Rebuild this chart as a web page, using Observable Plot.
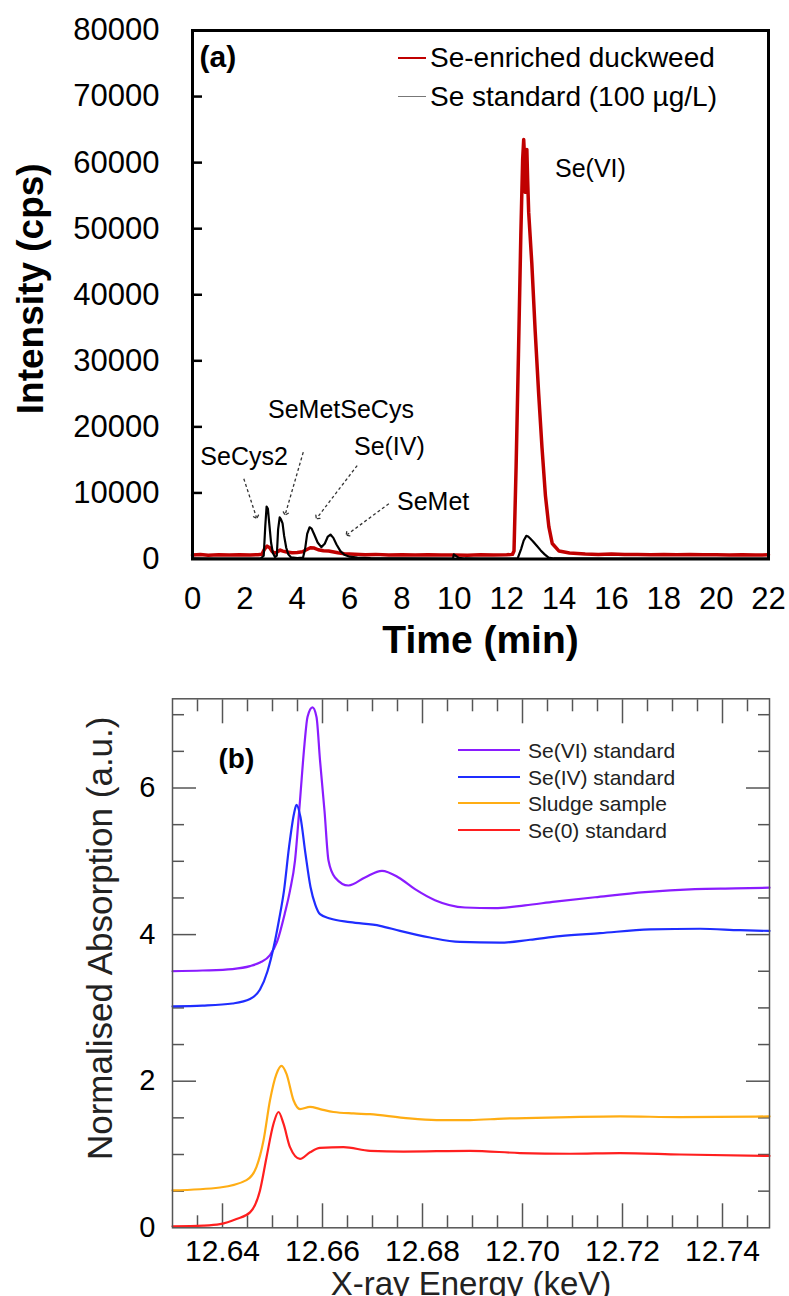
<!DOCTYPE html>
<html>
<head>
<meta charset="utf-8">
<script src="https://cdn.jsdelivr.net/npm/d3@7"></script>
<script src="https://cdn.jsdelivr.net/npm/@observablehq/plot@0.6"></script>
<style>
  body { margin: 0; background: #fff; font-family: "Liberation Sans", Arial, sans-serif; }
  #wrap { position: relative; width: 789px; height: 1296px; overflow: hidden; background: #fff; }
  #wrap svg { display: block; overflow: visible; }
  .leg-line { position: absolute; height: 0; }
  .leg-text { position: absolute; white-space: nowrap; line-height: 1; transform: translateY(-50%); }
</style>
</head>
<body>
<div id="wrap">
  <div id="panelA"></div>
  <div id="panelB"></div>
</div>
<script>
// ---------- Panel (a): HPLC-ICP-MS chromatograms ----------
const timeTicks = [0, 2, 4, 6, 8, 10, 12, 14, 16, 18, 20, 22];
const intensityTicks = [0, 10000, 20000, 30000, 40000, 50000, 60000, 70000, 80000];
const seriesA = ["Se-enriched duckweed", "Se standard (100 µg/L)"];

// [time (min), intensity (cps)]
const duckweedTrace = [[0,600],[0.3,680],[0.6,560],[1,650],[1.4,590],[1.8,640],[2.2,600],[2.5,660],[2.65,720],[2.75,1500],[2.85,1950],[2.95,1700],[3.05,1100],[3.15,900],[3.25,1100],[3.35,1350],[3.45,1200],[3.6,1050],[3.8,950],[4.0,1000],[4.2,1100],[4.35,1400],[4.5,1700],[4.65,1650],[4.8,1400],[5.0,1250],[5.2,1200],[5.35,1100],[5.55,950],[5.8,800],[6.2,720],[6.6,650],[7,700],[7.5,620],[8,660],[8.5,600],[9,640],[9.5,590],[10,620],[10.5,580],[11,630],[11.5,600],[12,640],[12.22,700],[12.28,1200],[12.36,14000],[12.45,31000],[12.54,49000],[12.61,60500],[12.65,63500],[12.68,61000],[12.71,55500],[12.74,58500],[12.77,62000],[12.8,57500],[12.84,52500],[12.96,44750],[13.09,34400],[13.22,25100],[13.35,16800],[13.48,9600],[13.61,4900],[13.74,2350],[14,1200],[14.4,900],[15,760],[15.5,700],[16,740],[16.5,680],[17,700],[17.5,650],[18,690],[18.5,640],[19,670],[19.5,630],[20,660],[20.5,620],[21,650],[21.5,610],[22,630]];
const standardTrace = [[0,80],[1,60],[2,70],[2.6,60],[2.72,500],[2.78,5000],[2.83,7950],[2.88,7600],[2.94,5000],[3.0,2500],[3.07,900],[3.15,300],[3.22,500],[3.27,4500],[3.33,6300],[3.38,6000],[3.44,5400],[3.5,3500],[3.58,1700],[3.66,700],[3.76,250],[4.0,150],[4.22,200],[4.3,1500],[4.38,3800],[4.47,4800],[4.55,4600],[4.65,3700],[4.78,2500],[4.92,1800],[5.05,2300],[5.17,3400],[5.27,3700],[5.38,3200],[5.5,2200],[5.65,1200],[5.8,650],[6.0,350],[6.3,200],[6.8,120],[8,80],[9.8,60],[9.95,80],[9.98,700],[10.17,180],[10.4,80],[11,60],[12.3,60],[12.42,100],[12.55,1500],[12.65,2800],[12.75,3500],[12.82,3400],[12.9,3100],[13.0,2700],[13.15,2000],[13.3,1300],[13.45,700],[13.6,200],[13.8,80],[16,60],[19,60],[22,60]];

const peakLabelText = ["SeCys2", "SeMetSeCys", "Se(IV)", "SeMet", "Se(VI)"];
const peakLabelTime = [1.97, 5.67, 7.52, 9.19, 15.2];
const peakLabelIntensity = [15400, 22480, 16900, 8600, 59100];
const arrowTimeStart = [1.96, 4.23, 6.29, 7.5];
const arrowIntensityStart = [12140, 16170, 14150, 8360];
const arrowTimeEnd = [2.44, 3.55, 4.76, 5.91];
const arrowIntensityEnd = [6330, 6840, 6240, 3710];

// ---------- Panel (b): Se K-edge XANES ----------
const energyTicks = [12.64, 12.66, 12.68, 12.70, 12.72, 12.74];
const energyMinorTicks = [12.635, 12.645, 12.65, 12.655, 12.665, 12.67, 12.675, 12.685, 12.69, 12.695, 12.705, 12.71, 12.715, 12.725, 12.73, 12.735, 12.745];
const absorptionTicks = [0, 2, 4, 6];
const absorptionMinorTicks = [0.5, 1, 1.5, 2.5, 3, 3.5, 4.5, 5, 5.5, 6.5, 7];
const seriesB = ["Se(VI) standard", "Se(IV) standard", "Sludge sample", "Se(0) standard"];

// [energy (keV), normalised absorption]
const seVIStandard = [[12.630,3.50],[12.636,3.51],[12.642,3.53],[12.6455,3.57],[12.6475,3.62],[12.6495,3.72],[12.6509,3.90],[12.6525,4.30],[12.6535,4.60],[12.6545,5.01],[12.6555,5.83],[12.6564,6.60],[12.6570,6.97],[12.6580,7.10],[12.6588,6.97],[12.6595,6.38],[12.6604,5.69],[12.6612,5.01],[12.6625,4.78],[12.6652,4.67],[12.6685,4.78],[12.6719,4.87],[12.6752,4.78],[12.6785,4.62],[12.6825,4.47],[12.6885,4.37],[12.6945,4.36],[12.7005,4.40],[12.7065,4.45],[12.7145,4.51],[12.7245,4.58],[12.7345,4.62],[12.7425,4.63],[12.7494,4.64]];
const seIVStandard = [[12.630,3.02],[12.636,3.03],[12.642,3.06],[12.6455,3.12],[12.6475,3.25],[12.6490,3.50],[12.6503,3.85],[12.6513,4.20],[12.6523,4.60],[12.6533,5.19],[12.6543,5.65],[12.6548,5.77],[12.6556,5.60],[12.6566,5.10],[12.6576,4.65],[12.6586,4.40],[12.6595,4.28],[12.6615,4.22],[12.6655,4.17],[12.6715,4.12],[12.6755,4.05],[12.6815,3.96],[12.6875,3.90],[12.6955,3.89],[12.7015,3.93],[12.7075,3.98],[12.7155,4.02],[12.7255,4.07],[12.7355,4.08],[12.7435,4.06],[12.7494,4.05]];
const sludgeSample = [[12.630,0.51],[12.6395,0.55],[12.6448,0.65],[12.6468,0.83],[12.6482,1.19],[12.6495,1.74],[12.6508,2.10],[12.6518,2.21],[12.6528,2.10],[12.6542,1.74],[12.6555,1.62],[12.6575,1.65],[12.6595,1.62],[12.6622,1.58],[12.6662,1.56],[12.6695,1.55],[12.6762,1.50],[12.6828,1.47],[12.6895,1.47],[12.6962,1.49],[12.7028,1.50],[12.7095,1.51],[12.7195,1.52],[12.7315,1.51],[12.7494,1.52]];
const se0Standard = [[12.630,0.02],[12.6362,0.03],[12.6395,0.05],[12.6428,0.12],[12.6455,0.21],[12.6475,0.51],[12.6488,0.96],[12.6502,1.42],[12.6512,1.58],[12.6522,1.42],[12.6535,1.10],[12.6555,0.94],[12.6575,1.03],[12.6595,1.09],[12.6642,1.10],[12.6695,1.05],[12.6762,1.04],[12.6895,1.05],[12.6995,1.02],[12.7095,1.01],[12.7195,1.02],[12.7315,1.00],[12.7494,0.98]];

const colorsA = ["#c00000", "#000000"];
const colorsB = ["#8a1cff", "#1f2dff", "#ffad14", "#ff1f1f"];
const FONT = "Liberation Sans, Arial, Helvetica, sans-serif";

// ---------- build panel (a) ----------
const duck = duckweedTrace.map(([t, v]) => ({t, v}));
const std = standardTrace.map(([t, v]) => ({t, v}));
const peakLabels = peakLabelText.map((text, i) => ({text, t: peakLabelTime[i], v: peakLabelIntensity[i]}));
const arrows = arrowTimeStart.map((t1, i) => ({t1, v1: arrowIntensityStart[i], t2: arrowTimeEnd[i], v2: arrowIntensityEnd[i]}));

const chartA = Plot.plot({
  width: 789,
  height: 670,
  marginLeft: 192,
  marginRight: 21,
  marginTop: 30,
  marginBottom: 111.5,
  style: {fontFamily: FONT, background: "transparent", color: "#000"},
  x: {domain: [0, 22]},
  y: {domain: [0, 80000]},
  marks: [
    Plot.axisY({ticks: intensityTicks, tickSize: 0, tickPadding: 33, fontSize: 31, tickFormat: "d", label: null}),
    Plot.axisY({ticks: intensityTicks.slice(1, -1), tickSize: -10, tickFormat: () => "", strokeWidth: 2.5, label: null}),
    Plot.axisX({ticks: timeTicks, tickSize: 0, tickPadding: 28, fontSize: 31, tickFormat: "d", label: null}),
    Plot.line(duck, {x: "t", y: "v", stroke: colorsA[0], strokeWidth: 3.5, strokeLinejoin: "round"}),
    Plot.line(std, {x: "t", y: "v", stroke: colorsA[1], strokeWidth: 2.2, strokeLinejoin: "round"}),
    Plot.link(arrows, {x1: "t1", y1: "v1", x2: "t2", y2: "v2", stroke: "#333", strokeWidth: 1.3, strokeDasharray: "3,2.5", markerEnd: "arrow"}),
    Plot.text(peakLabels, {x: "t", y: "v", text: "text", fontSize: 25, fill: "#000"}),
    Plot.frame({stroke: "#000", strokeWidth: 3}),
    Plot.text(["Intensity (cps)"], {frameAnchor: "left", textAnchor: "middle", lineAnchor: "middle", rotate: -90, dx: -161, dy: -6, fontSize: 37, fontWeight: "bold"}),
    Plot.text(["Time (min)"], {frameAnchor: "bottom", textAnchor: "middle", lineAnchor: "middle", dy: 82, fontSize: 39, fontWeight: "bold"}),
    Plot.text(["(a)"], {frameAnchor: "top-left", textAnchor: "start", lineAnchor: "middle", dx: 7, dy: 27, fontSize: 30, fontWeight: "bold"})
  ]
});
document.getElementById("panelA").appendChild(chartA);

// ---------- build panel (b) ----------
const seriesBData = [seVIStandard, seIVStandard, sludgeSample, se0Standard];
const xanes = seriesBData.flatMap((arr, k) => arr.map(([e, a]) => ({e, a, s: seriesB[k]})));
const tickStyle = {stroke: "#555", strokeWidth: 1.5, tickFormat: () => "", label: null};

const chartB = Plot.plot({
  width: 789,
  height: 626,
  marginLeft: 172,
  marginRight: 20,
  marginTop: 28.3,
  marginBottom: 68.7,
  style: {fontFamily: FONT, background: "transparent", color: "#000"},
  x: {domain: [12.63, 12.7494]},
  y: {domain: [0, 7.217]},
  color: {domain: seriesB, range: colorsB},
  marks: [
    Plot.axisY({ticks: absorptionTicks, tickSize: 0, tickPadding: 17, fontSize: 29, tickFormat: "d", label: null}),
    Plot.axisY({ticks: absorptionMinorTicks, tickSize: -12, ...tickStyle}),
    Plot.axisY({ticks: absorptionTicks.slice(1), tickSize: -24, ...tickStyle}),
    Plot.axisY({anchor: "right", ticks: absorptionMinorTicks, tickSize: -12, ...tickStyle}),
    Plot.axisY({anchor: "right", ticks: absorptionTicks.slice(1), tickSize: -24, ...tickStyle}),
    Plot.axisX({ticks: energyTicks, tickSize: 0, tickPadding: 12, fontSize: 30, tickFormat: ".2f", label: null}),
    Plot.axisX({ticks: energyMinorTicks, tickSize: -12, ...tickStyle}),
    Plot.axisX({ticks: energyTicks, tickSize: -24, ...tickStyle}),
    Plot.axisX({anchor: "top", ticks: energyMinorTicks, tickSize: -12, ...tickStyle}),
    Plot.axisX({anchor: "top", ticks: energyTicks, tickSize: -24, ...tickStyle}),
    Plot.line(xanes, {x: "e", y: "a", z: "s", stroke: "s", strokeWidth: 2.2, curve: "monotone-x"}),
    Plot.frame({stroke: "#555", strokeWidth: 1.5}),
    Plot.text(["Normalised Absorption (a.u.)"], {frameAnchor: "left", textAnchor: "middle", lineAnchor: "middle", rotate: -90, dx: -72, dy: -25, fontSize: 35, fill: "#222"}),
    Plot.text(["X-ray Energy (keV)"], {frameAnchor: "bottom", textAnchor: "middle", lineAnchor: "top", dy: 44, fontSize: 33, fill: "#222"}),
    Plot.text(["(b)"], {frameAnchor: "top-left", textAnchor: "start", lineAnchor: "middle", dx: 46, dy: 60, fontSize: 28, fontWeight: "bold"})
  ]
});
document.getElementById("panelB").appendChild(chartB);

// ---------- legends (HTML overlays) ----------
const wrap = document.getElementById("wrap");
function legendRow(color, width, x1, x2, xt, y, label, fs, textColor) {
  const ln = document.createElement("div");
  ln.className = "leg-line";
  ln.style.cssText = `left:${x1}px;width:${x2 - x1}px;top:${y - width / 2}px;border-top:${width}px solid ${color};`;
  wrap.appendChild(ln);
  const tx = document.createElement("div");
  tx.className = "leg-text";
  tx.textContent = label;
  tx.style.cssText = `left:${xt}px;top:${y}px;font-size:${fs}px;color:${textColor};font-family:${FONT};`;
  wrap.appendChild(tx);
}
const legendAY = [58, 97];
seriesA.forEach((s, i) => legendRow(i === 0 ? colorsA[0] : "#777", i === 0 ? 2.5 : 1.2, 398, 426, 430, legendAY[i], s, 28, "#000"));
const legendBY = [750, 777, 803, 830];
seriesB.forEach((s, i) => legendRow(colorsB[i], 2.2, 458, 520, 528, legendBY[i], s, 21, "#222"));
</script>
</body>
</html>
